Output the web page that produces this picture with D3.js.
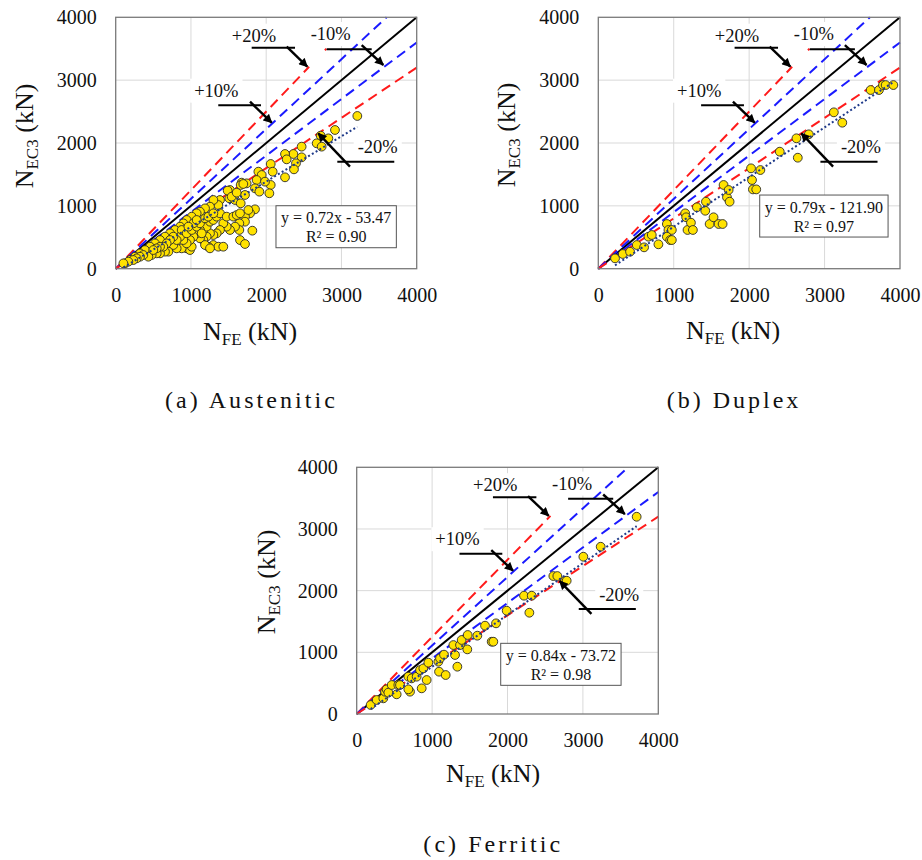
<!DOCTYPE html>
<html>
<head>
<meta charset="utf-8">
<script src="https://cdn.jsdelivr.net/npm/d3@7"></script>
<style>
  body { margin: 0; background: #fff; }
  svg { display: block; }
  svg text { font-family: "Liberation Serif", "DejaVu Serif", serif; }
</style>
</head>
<body>
<svg id="chart" width="922" height="860"></svg>
<script>
// ---------- data ----------
const tickValues = [0, 1000, 2000, 3000, 4000];
const gridValues = [1000, 2000, 3000];
const captions = ["(a) Austenitic", "(b) Duplex", "(c) Ferritic"];

// linear fits N_EC3 = a * N_FE + b
const fitSlope = [0.72, 0.79, 0.84];
const fitIntercept = [-53.47, -121.90, -73.72];
const fitR2 = ["0.90", "0.97", "0.98"];

// Austenitic: N_FE (kN), N_EC3 (kN)
const austeniticFE = [
  3211, 2914, 2724, 2671, 2737, 2826, 2471, 2361, 2250, 2471, 2396, 2369, 2250, 2272,
  2060, 2086, 2060, 2042, 1896, 1940, 1873, 1984, 1851, 1909, 1740, 1674, 1718, 1519,
  1510, 1586, 1661, 1488, 1541, 1608, 1661, 1696,
  1386, 1364, 1298, 1253, 1187, 1120, 1076, 1010, 943, 899, 855, 788, 722, 655, 589,
  522, 456, 389, 323, 257, 190, 124,
  1297, 1231, 1364, 1430, 1652, 1718, 1816, 1851, 1785, 1718, 1718, 1643, 1643, 1586,
  1519, 1475, 1430, 1386, 1342, 1298, 1253, 1209, 1165, 1120, 1165, 1209, 1253, 1298,
  1342, 1386, 1475, 1563, 1608, 1652, 1763,
  943, 987, 1010, 877, 810, 766, 700, 655, 589, 545, 478, 434, 367, 323, 279, 234, 168, 102,
  1120, 1076, 1032, 987, 943, 899, 855, 810, 766, 722, 677, 633, 589, 545, 500, 877, 943,
  1010, 1076, 1120, 1032, 966, 1187, 1231, 1298, 1076, 1143, 1187, 1253
];
const austeniticEC3 = [
  2430, 2207, 2117, 1995, 1942, 2074, 1942, 1825, 1825, 1772, 1677, 1581, 1454, 1740,
  1666, 1543, 1332, 1200, 1544, 1491, 1411, 1385, 1279, 1226, 1358, 1369, 1173, 1252,
  1120, 1093, 1040, 1242, 1146, 1210, 1332, 1348,
  1093, 1013, 1093, 987, 960, 907, 881, 828, 775, 721, 669, 616, 563, 510, 456,
  403, 350, 297, 244, 191, 138, 85,
  377, 350, 350, 350, 456, 393, 605, 945, 881, 828, 748, 722, 616, 669,
  616, 669, 722, 616, 563, 536, 563, 510, 456, 483, 616, 669, 748, 775,
  828, 881, 828, 828, 854, 881, 934,
  324, 297, 350, 324, 324, 377, 271, 271, 244, 244, 218, 191, 218, 191, 165, 138, 112, 85,
  616, 563, 510, 456, 403, 456, 510, 456, 510, 456, 403, 350, 350, 324, 297, 616, 563,
  616, 669, 722, 722, 669, 801, 828, 881, 775, 563, 377, 324
];

// Duplex
const duplexFE = [
  222, 324, 421, 510, 607, 665, 709, 797, 909, 930, 975, 909, 953, 975, 1152, 1165,
  1183, 1228, 1254, 1307, 1418, 1427, 1476, 1528, 1595, 1648, 1661, 1706, 1728, 1741,
  2025, 2038, 2050, 2094, 2149, 2406, 2627, 2645, 2791, 3123, 3235, 3611, 3721, 3774,
  3810, 3912
];
const duplexEC3 = [
  165, 234, 270, 377, 340, 509, 536, 388, 711, 616, 616, 509, 456, 456, 881, 818,
  616, 732, 616, 977, 922, 1066, 711, 818, 711, 711, 1332, 1136, 1252, 1066,
  1597, 1411, 1262, 1262, 1570, 1862, 2075, 1766, 2138, 2488, 2323, 2843, 2843, 2922,
  2922, 2922
];

// Ferritic
const ferriticFE = [
  185, 265, 353, 376, 397, 420, 464, 552, 574, 530, 685, 707, 685, 729, 795, 840,
  862, 884, 928, 950, 1083, 1092, 1105, 1158, 1180, 1282, 1304, 1335, 1370, 1392,
  1467, 1472, 1600, 1702, 1790, 1812, 1848, 1989, 2219, 2290, 2321, 2608, 2661, 2763,
  2785, 3006, 3236, 3713
];
const ferriticEC3 = [
  146, 227, 254, 362, 400, 346, 470, 470, 470, 319, 605, 362, 400, 578, 605, 713,
  416, 740, 551, 832, 848, 686, 902, 962, 632, 1118, 957, 767, 1118, 1200,
  1048, 1281, 1270, 1432, 1172, 1172, 1470, 1675, 1918, 1642, 1918, 2237, 2237, 2161,
  2161, 2550, 2712, 3198
];

// error bands around the 1:1 line
const boundLabels = ["+20%", "+10%", "-10%", "-20%"];
const boundSlopes = [1 / 0.8, 1 / 0.9, 0.9, 0.8];
const boundColors = ["#ff1a1a", "#1a1aff", "#1a1aff", "#ff1a1a"];
// x-extent of each band line (kN); the +20% line is interrupted below its leader
const boundExtentA = [[[0, 2570], [2780, 2800]], [[0, 3600]], [[0, 4000]], [[0, 4000]]];
const boundExtentC = [[[0, 2570]], [[0, 3600]], [[0, 4000]], [[0, 4000]]];

// band labels with leader + arrow, in data units (kN)
const labelX = [1838, 1337, 2857, 3482];
const labelY = [3612, 2737, 3639, 1836];
const leaderY = [3516, 2600, 3491, 1702];
const leaderX0 = [1807, 1363, 2804, 2945];
const leaderX1 = [2383, 1931, 3402, 3702];
const arrowFrom = [[2272, 3532], [1785, 2657], [3269, 3559], [3113, 1623]];
const arrowTo = [[2546, 3214], [2073, 2323], [3556, 3241], [2692, 2154]];

// ---------- layout ----------
const layout = [
  { left: 115.7, top: 17.3, right: 416.7, bottom: 268.7,
    xTitle: [250, 339.5], yTitle: [33, 136], caption: [250, 407.7, 170], box: [2130, 1002] },
  { left: 598.3, top: 17.3, right: 900, bottom: 268.7,
    xTitle: [733, 339], yTitle: [514.5, 135], caption: [732.5, 408, 131.6], box: [2140, 1172] },
  { left: 356.7, top: 467.3, right: 658.3, bottom: 714,
    xTitle: [493, 781.7], yTitle: [275, 582], caption: [491.7, 851.7, 136.7], box: [1910, 1146] }
];

const panels = [
  { fe: austeniticFE, ec3: austeniticEC3, extents: boundExtentA },
  { fe: duplexFE, ec3: duplexEC3, extents: boundExtentA },
  { fe: ferriticFE, ec3: ferriticEC3, extents: boundExtentC }
];

const serif = '"Liberation Serif", "DejaVu Serif", serif';
const svg = d3.select("#chart");

svg.append("defs").append("marker")
  .attr("id", "arrowHead")
  .attr("viewBox", "0 0 10 10")
  .attr("refX", 9).attr("refY", 5)
  .attr("markerUnits", "userSpaceOnUse")
  .attr("markerWidth", 10).attr("markerHeight", 9)
  .attr("orient", "auto")
  .append("path").attr("d", "M0,0 L10,5 L0,10 Z").attr("fill", "#000");

function serifText(sel, size) {
  return sel.style("font-family", serif).style("font-size", size + "px").attr("fill", "#111");
}

panels.forEach((p, i) => {
  const L = layout[i];
  const x = d3.scaleLinear().domain([0, 4000]).range([L.left, L.right]);
  const y = d3.scaleLinear().domain([0, 4000]).range([L.bottom, L.top]);
  const g = svg.append("g");

  // gridlines
  g.selectAll(".gx").data(gridValues).join("line")
    .attr("x1", d => x(d)).attr("x2", d => x(d))
    .attr("y1", L.top).attr("y2", L.bottom)
    .attr("stroke", "#d9d9d9").attr("stroke-width", 1);
  g.selectAll(".gy").data(gridValues).join("line")
    .attr("y1", d => y(d)).attr("y2", d => y(d))
    .attr("x1", L.left).attr("x2", L.right)
    .attr("stroke", "#d9d9d9").attr("stroke-width", 1);

  // band labels (white backed) drawn early so they mask the grid
  const labG = g.append("g");
  boundLabels.forEach((lab, k) => {
    const t = serifText(labG.append("text"), 18.5)
      .attr("x", x(labelX[k])).attr("y", y(labelY[k]))
      .attr("text-anchor", "middle")
      .text(lab);
    const bb = t.node().getBBox();
    labG.insert("rect", "text")
      .attr("x", bb.x - 4).attr("y", bb.y - 2)
      .attr("width", bb.width + 8).attr("height", bb.height + 4)
      .attr("fill", "#fff");
  });

  // 1:1 line
  g.append("line")
    .attr("x1", x(0)).attr("y1", y(0)).attr("x2", x(4000)).attr("y2", y(4000))
    .attr("stroke", "#000").attr("stroke-width", 2);

  // error band lines
  boundSlopes.forEach((s, k) => {
    p.extents[k].forEach(([a, b]) => {
      g.append("line")
        .attr("x1", x(a)).attr("y1", y(a * s))
        .attr("x2", x(b)).attr("y2", y(b * s))
        .attr("stroke", boundColors[k]).attr("stroke-width", 2)
        .attr("stroke-dasharray", "10,6");
    });
  });

  // specimens
  const pts = p.fe.map((v, j) => [v, p.ec3[j]]);
  g.append("g").selectAll("circle").data(pts).join("circle")
    .attr("cx", d => x(d[0])).attr("cy", d => y(d[1]))
    .attr("r", 4.4)
    .attr("fill", "#ffe200").attr("stroke", "#2a2a2a").attr("stroke-width", 0.9);

  // linear trendline over the data range
  const xmin = d3.min(p.fe), xmax = d3.max(p.fe);
  g.append("line")
    .attr("x1", x(xmin)).attr("y1", y(fitSlope[i] * xmin + fitIntercept[i]))
    .attr("x2", x(xmax)).attr("y2", y(fitSlope[i] * xmax + fitIntercept[i]))
    .attr("stroke", "#1f3a8a").attr("stroke-width", 2)
    .attr("stroke-dasharray", "2,2.4");

  // leaders and arrows
  boundLabels.forEach((lab, k) => {
    g.append("line")
      .attr("x1", x(leaderX0[k])).attr("x2", x(leaderX1[k]))
      .attr("y1", y(leaderY[k])).attr("y2", y(leaderY[k]))
      .attr("stroke", "#000").attr("stroke-width", 2);
    g.append("line")
      .attr("x1", x(arrowFrom[k][0])).attr("y1", y(arrowFrom[k][1]))
      .attr("x2", x(arrowTo[k][0])).attr("y2", y(arrowTo[k][1]))
      .attr("stroke", "#000").attr("stroke-width", 2.4)
      .attr("marker-end", "url(#arrowHead)");
  });

  // fit equation box
  const bx = x(L.box[0]), by = y(L.box[1]);
  const eqG = g.append("g");
  const sign = fitIntercept[i] < 0 ? "-" : "+";
  const eq1 = `y = ${fitSlope[i].toFixed(2)}x ${sign} ${Math.abs(fitIntercept[i]).toFixed(2)}`;
  const eq2 = `R² = ${fitR2[i]}`;
  const t1 = serifText(eqG.append("text"), 16).attr("y", by + 17.5).attr("text-anchor", "middle").text(eq1);
  const t2 = serifText(eqG.append("text"), 16).attr("y", by + 36.5).attr("text-anchor", "middle").text(eq2);
  const w = t1.node().getComputedTextLength() + 10;
  t1.attr("x", bx + w / 2); t2.attr("x", bx + w / 2);
  eqG.insert("rect", "text")
    .attr("x", bx).attr("y", by).attr("width", w).attr("height", 42)
    .attr("fill", "#fff").attr("stroke", "#555").attr("stroke-width", 1);

  // plot frame
  g.append("rect")
    .attr("x", L.left).attr("y", L.top)
    .attr("width", L.right - L.left).attr("height", L.bottom - L.top)
    .attr("fill", "none").attr("stroke", "#7a7a7a").attr("stroke-width", 1.3);

  // axes
  const fmt = d3.format("d");
  const xAxis = g.append("g").attr("transform", `translate(0,${L.bottom})`)
    .call(d3.axisBottom(x).tickValues(tickValues).tickFormat(fmt).tickSize(0).tickPadding(18.8));
  const yAxis = g.append("g").attr("transform", `translate(${L.left},0)`)
    .call(d3.axisLeft(y).tickValues(tickValues).tickFormat(fmt).tickSize(0).tickPadding(19));
  [xAxis, yAxis].forEach(a => {
    a.attr("font-family", null).attr("font-size", null);
    a.select(".domain").remove();
    serifText(a.selectAll("text"), 20);
  });

  // axis titles
  const xt = serifText(g.append("text"), 26)
    .attr("x", L.xTitle[0]).attr("y", L.xTitle[1])
    .attr("text-anchor", "middle");
  xt.append("tspan").text("N");
  xt.append("tspan").attr("dy", 5).style("font-size", "17px").text("FE");
  xt.append("tspan").attr("dy", -5).text(" (kN)");

  const yt = serifText(g.append("text"), 26)
    .attr("transform", `translate(${L.yTitle[0]},${L.yTitle[1]}) rotate(-90)`)
    .attr("text-anchor", "middle");
  yt.append("tspan").text("N");
  yt.append("tspan").attr("dy", 5).style("font-size", "17px").text("EC3");
  yt.append("tspan").attr("dy", -5).text(" (kN)");

  // panel caption
  serifText(svg.append("text"), 24)
    .attr("x", L.caption[0]).attr("y", L.caption[1])
    .attr("text-anchor", "middle")
    .attr("textLength", L.caption[2]).attr("lengthAdjust", "spacing")
    .text(captions[i]);
});
</script>
</body>
</html>
